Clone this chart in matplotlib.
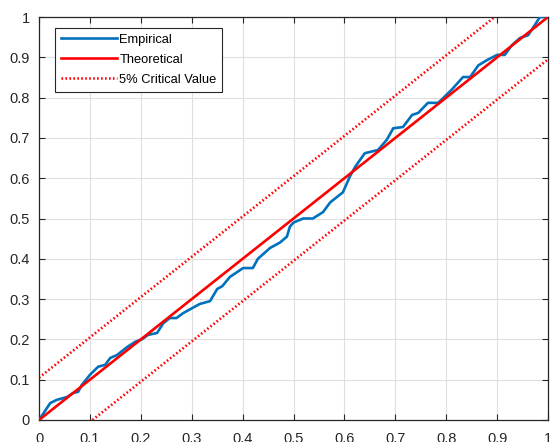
import matplotlib.pyplot as plt
import numpy as np

# empirical CDF
emp_x = [0, 0.022, 0.035, 0.055, 0.067, 0.077, 0.084, 0.1, 0.116, 0.13, 0.14, 0.153,
         0.173, 0.189, 0.202, 0.214, 0.232, 0.244, 0.257, 0.27, 0.283, 0.3, 0.316,
         0.336, 0.35, 0.36, 0.375, 0.401, 0.42, 0.43, 0.454, 0.473, 0.487, 0.493, 0.5,
         0.519, 0.538, 0.558, 0.572, 0.597, 0.611, 0.621, 0.64, 0.666, 0.683, 0.696,
         0.715, 0.733, 0.745, 0.764, 0.784, 0.79, 0.811, 0.833, 0.847, 0.863, 0.88,
         0.9, 0.915, 0.929, 0.945, 0.961, 0.974, 0.984, 1.0]
emp_y = [0, 0.042, 0.05, 0.057, 0.067, 0.07, 0.087, 0.112, 0.132, 0.137, 0.154, 0.161,
         0.181, 0.194, 0.2, 0.211, 0.216, 0.24, 0.253, 0.253, 0.265, 0.277, 0.288,
         0.295, 0.325, 0.332, 0.355, 0.377, 0.377, 0.4, 0.427, 0.44, 0.455, 0.48, 0.49,
         0.5, 0.5, 0.516, 0.54, 0.565, 0.605, 0.628, 0.662, 0.67, 0.695, 0.724,
         0.727, 0.757, 0.762, 0.787, 0.787, 0.794, 0.82, 0.851, 0.851, 0.88, 0.893,
         0.906, 0.906, 0.93, 0.948, 0.955, 0.98, 1.0, 1.0]

theo_x = [0, 1]
theo_y = [0, 1]

# 5% critical value bands
upper_x = [0, 0.895]
upper_y = [0.105, 1]
lower_x = [0.105, 1]
lower_y = [0, 0.895]

ticks = [0, 0.1, 0.2, 0.3, 0.4, 0.5, 0.6, 0.7, 0.8, 0.9, 1]
tick_labels = ['0', '0.1', '0.2', '0.3', '0.4', '0.5', '0.6', '0.7', '0.8', '0.9', '1']

plt.rcParams['font.family'] = ['Liberation Sans', 'DejaVu Sans']
dark = '#262626'

fig = plt.figure(figsize=(5.52, 4.42), dpi=100)
ax = fig.add_axes([0.0707, 0.0498, 0.9221, 0.9117])

ax.plot(emp_x, emp_y, color='#0072BD', linewidth=1.9, label='Empirical', zorder=3)
ax.plot(theo_x, theo_y, color='#FF0000', linewidth=1.9, label='Theoretical', zorder=4)
ax.plot(upper_x, upper_y, color='#FF0000', linewidth=1.9, linestyle=(0, (0.6, 0.9)),
        label='5% Critical Value', zorder=2)
ax.plot(lower_x, lower_y, color='#FF0000', linewidth=1.9, linestyle=(0, (0.6, 0.9)), zorder=2)

ax.set_xlim(0, 1)
ax.set_ylim(0, 1)
ax.set_xticks(ticks)
ax.set_xticklabels(tick_labels)
ax.set_yticks(ticks)
ax.set_yticklabels(tick_labels)
ax.grid(True, color='#dfdfdf', linewidth=0.8)
ax.set_axisbelow(True)
ax.tick_params(direction='in', length=4, width=0.8, colors=dark, labelsize=10.5,
               top=True, right=True, pad=6.5)
ax.tick_params(axis='x', pad=8.5)
for s in ax.spines.values():
    s.set_color(dark)
    s.set_linewidth(0.9)

leg = ax.legend(loc='upper left', bbox_to_anchor=(0.032, 0.973), fontsize=9.3,
                handlelength=4.3, handletextpad=0.2, borderpad=0.45,
                labelspacing=0.62, fancybox=False, framealpha=1, borderaxespad=0)
leg.get_frame().set_edgecolor(dark)
leg.get_frame().set_linewidth(0.8)

fig.savefig('out.png', dpi=100)
